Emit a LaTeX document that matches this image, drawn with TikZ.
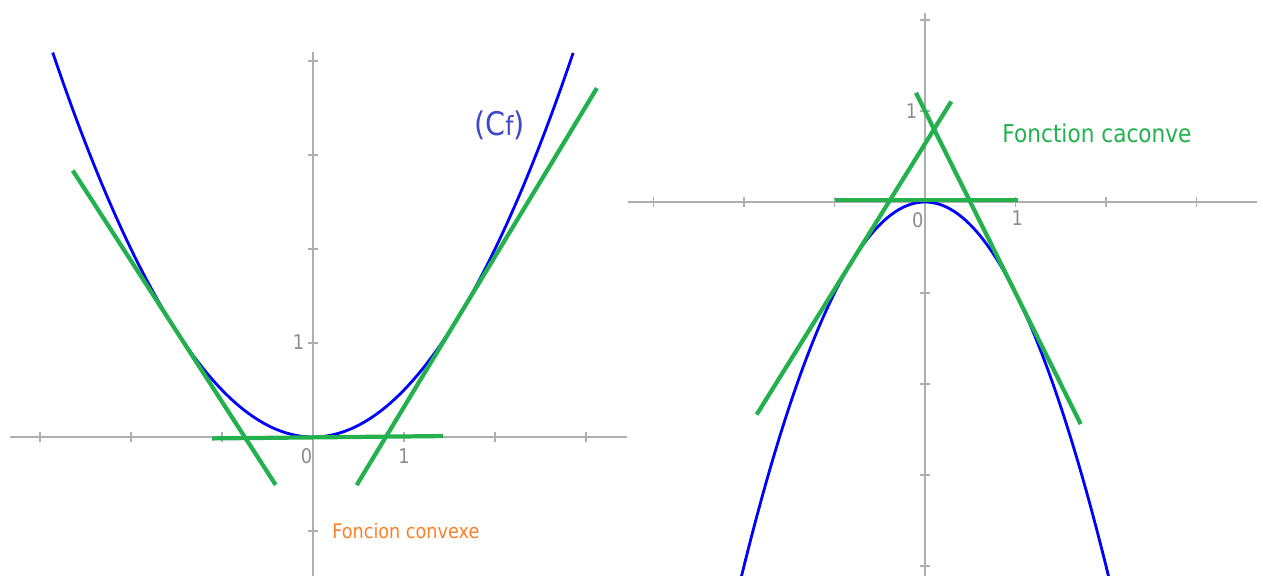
\documentclass[tikz,border=0pt]{standalone}
\usepackage{fontspec}
\setmainfont[FakeStretch=0.88]{DejaVu Sans}
\usepackage{tikz}
\usetikzlibrary{positioning}
\definecolor{vertT}{RGB}{34,177,76}
\definecolor{orangeT}{RGB}{255,127,39}
\definecolor{indigoT}{RGB}{63,72,204}
\definecolor{axisgray}{RGB}{175,175,175}
\definecolor{valgray}{RGB}{140,140,140}

\begin{document}
\begin{tikzpicture}[
    x=0.2mm, y=-0.2mm,
    axe/.style={draw=axisgray, line width=0.6pt},
    courbe/.style={draw=blue, line width=1.6pt},
    tangente/.style={draw=vertT, line width=2.4pt},
    valeur/.style={text=valgray, inner sep=0pt,
                   font=\fontsize{11.5}{13}\selectfont},
]
\useasboundingbox (0,0) rectangle (1263,575);

% fonction convexe
\begin{scope}[shift={(313,437)}, x=18.2mm, y=18.8mm]
\draw[axe] (-3.33,0) -- (3.45,0);
\draw[axe] (0,-1.5) -- (0,4.1);
\foreach \i in {-3,-2,-1,1,2,3}
    \draw[axe] (\i,0) ++(0,-1mm) -- ++(0,2mm);
\foreach \j in {-1,1,2,3,4}
    \draw[axe] (0,\j) ++(-1mm,0) -- ++(2mm,0);

\draw[courbe] plot[domain=-2.86:2.86, samples=90, smooth]
    (\x, {0.5*\x*\x});

\draw[tangente] (-2.64,2.835) -- (-0.41,-0.51);
\draw[tangente] (0.48,-0.512) -- (3.12,3.712);
\draw[tangente] (-1.11,-0.015) -- (1.43,0.01);

\node[valeur] (zeroG) at (-0.07,-0.2) {0};
\node[valeur] (unxG) at (1.0,-0.2) {1};
\node[valeur] (unyG) at (-0.16,1.01) {1};
\node[text=indigoT, font=\fontsize{18.5}{21}\selectfont] (cf) at (2.05,3.32)
    {(C{\fontsize{15}{17}\selectfont f})};
\node[text=orangeT, font=\fontsize{11.4}{13}\selectfont] (convexe) at (1.02,-1.0)
    {Foncion convexe};
\end{scope}

% fonction concave
\begin{scope}[shift={(925,202)}, x=18.1mm, y=18.2mm]
\draw[axe] (-3.28,0) -- (3.67,0);
\draw[axe] (0,-4.15) -- (0,2.08);
\foreach \i in {-3,-2,-1,1,2,3}
    \draw[axe] (\i,0) ++(0,-1mm) -- ++(0,2mm);
\foreach \j in {-4,-3,-2,-1,1,2}
    \draw[axe] (0,\j) ++(-1mm,0) -- ++(2mm,0);

\draw[courbe] plot[domain=-2.06:2.06, samples=90, smooth]
    (\x, {-\x*\x});

\draw[tangente] (-1.86,-2.336) -- (0.29,1.104);
\draw[tangente] (-0.1,1.2) -- (1.72,-2.44);
\draw[tangente] (-1.0,0.02) -- (1.03,0.02);

\node[valeur] (zeroD) at (-0.08,-0.2) {0};
\node[valeur] (unxD) at (1.02,-0.18) {1};
\node[valeur] (unyD) at (-0.15,1.0) {1};
\node[text=vertT, font=\fontsize{14}{16}\selectfont] (concave) at (1.9,0.76)
    {Fonction caconve};
\end{scope}

\end{tikzpicture}
\end{document}
